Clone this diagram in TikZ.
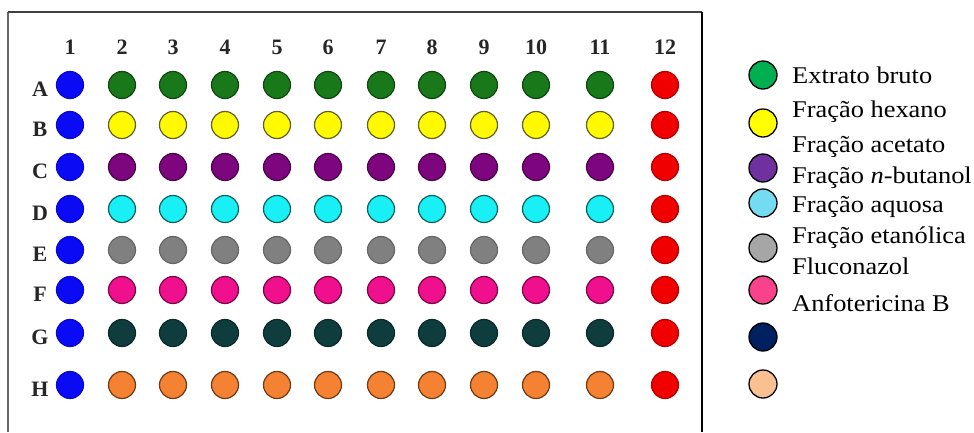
\documentclass[tikz,border=0pt]{standalone}
\usepackage{fontspec}
\setmainfont{Liberation Serif}
\newfontfamily\legendfont[FakeStretch=1.1]{Liberation Serif}
\definecolor{cBlue}{RGB}{10,10,245}
\definecolor{cGreen}{RGB}{25,120,25}
\definecolor{cYellow}{RGB}{255,250,0}
\definecolor{cPurple}{RGB}{125,5,125}
\definecolor{cCyan}{RGB}{25,240,245}
\definecolor{cGray}{RGB}{128,128,128}
\definecolor{cPink}{RGB}{240,15,140}
\definecolor{cTeal}{RGB}{15,60,60}
\definecolor{cOrange}{RGB}{245,130,50}
\definecolor{cRed}{RGB}{240,0,0}
\definecolor{lGreen}{RGB}{0,176,80}
\definecolor{lYellow}{RGB}{255,255,0}
\definecolor{lPurple}{RGB}{112,48,160}
\definecolor{lCyan}{RGB}{115,220,240}
\definecolor{lGray}{RGB}{166,166,166}
\definecolor{lPink}{RGB}{250,65,140}
\definecolor{lNavy}{RGB}{0,32,96}
\definecolor{lPeach}{RGB}{250,192,144}
\tikzset{
  well/.style={circle, minimum size=27pt, inner sep=0pt, line width=1.2pt},
  platelabel/.style={font=\fontsize{22}{22}\selectfont\bfseries, inner sep=0pt, text=black!85},
  legwell/.style={circle, minimum size=28pt, inner sep=0pt, draw=black, line width=1.3pt},
  legtext/.style={font=\legendfont\fontsize{24}{24}\selectfont, anchor=base west, inner sep=0pt},
}
\begin{document}
\begin{tikzpicture}[x=1pt,y=-1pt]
\useasboundingbox (0,0) rectangle (974,432);
\fill[white] (0,0) rectangle (974,432);
% frame
\draw[line width=1.8pt, black!60] (8,432) -- (8,12) coordinate (tl);
\draw[line width=1.6pt, black!75] (8,12) -- (702,12);
\draw[line width=2pt, black] (702,12) -- (702,432);
% column labels
\foreach \c/\x in {1/70,2/122,3/173,4/225,5/277,6/328,7/381,8/432,9/484,10/536,11/600,12/665}{
  \node[platelabel] (col\c) at (\x,47.5) {\c};
}
% rows
\foreach \r/\y/\fc/\dc in {A/85/cGreen/cGreen!60!black,B/125/cYellow/olive!60!black,C/167/cPurple/cPurple!60!black,D/209/cCyan/cTeal!80!cCyan,E/250/cGray/black!60,F/290/cPink/cPink!50!black,G/333/cTeal/cTeal!70!black,H/385/cOrange/cOrange!45!black}{
  \node[platelabel] (row\r) at (40,\y+4.5) {\r};
  \node[well, fill=cBlue, draw=cBlue!85!black] (w\r1) at (70,\y) {};
  \foreach \c/\x in {2/122,3/173,4/225,5/277,6/328,7/381,8/432,9/484,10/536,11/600}{
    \node[well, fill=\fc, draw=\dc] (w\r\c) at (\x,\y) {};
  }
  \node[well, fill=cRed, draw=cRed!75!black] (w\r12) at (665,\y) {};
}
% legend
\node[legwell, fill=lGreen] (l1) at (763,75) {};
\node[legwell, fill=lYellow] (l2) at (763,123) {};
\node[legwell, fill=lPurple] (l3) at (763,168) {};
\node[legwell, fill=lCyan] (l4) at (763,203) {};
\node[legwell, fill=lGray] (l5) at (763,248) {};
\node[legwell, fill=lPink] (l6) at (763,290) {};
\node[legwell, fill=lNavy] (l7) at (763,337) {};
\node[legwell, fill=lPeach] (l8) at (763,384) {};
\node[legtext] (t1) at (792,83) {Extrato bruto};
\node[legtext] (t2) at (792,117) {Fração hexano};
\node[legtext] (t3) at (792,152) {Fração acetato};
\node[legtext] (t4) at (792,183) {Fração \textit{n}-butanol};
\node[legtext] (t5) at (792,212) {Fração aquosa};
\node[legtext] (t6) at (792,243) {Fração etanólica};
\node[legtext] (t7) at (792,274) {Fluconazol};
\node[legtext] (t8) at (792,311) {Anfotericina B};
\end{tikzpicture}
\end{document}
